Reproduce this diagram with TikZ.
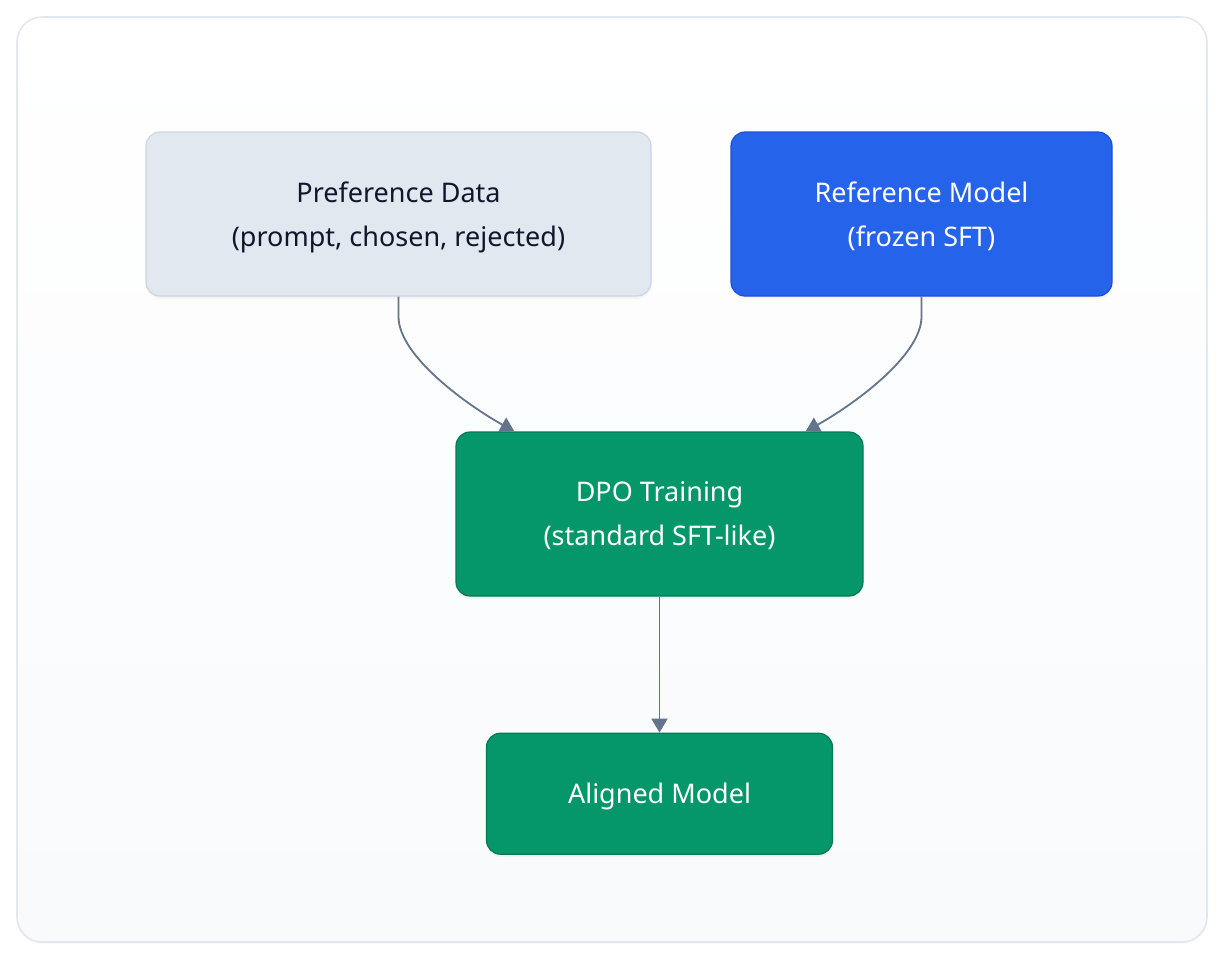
\documentclass[tikz,border=0pt]{standalone}
\usepackage{fontspec}
\setmainfont{Noto Sans}
\usepackage{xcolor}
\usepackage{tikz}
\usetikzlibrary{arrows.meta, positioning, shadows}

\definecolor{frameline}{HTML}{E2E8F0}
\definecolor{framebot}{HTML}{F8FAFC}
\definecolor{datafill}{HTML}{E2E8F0}
\definecolor{dataline}{HTML}{CBD5E1}
\definecolor{datatext}{HTML}{0F172A}
\definecolor{reffill}{HTML}{2563EB}
\definecolor{refline}{HTML}{1D4ED8}
\definecolor{trainfill}{HTML}{059669}
\definecolor{trainline}{HTML}{047857}
\definecolor{edgecol}{HTML}{64748B}

\begin{document}
\begin{tikzpicture}[
  x=0.5pt, y=-0.5pt,
  box/.style={rounded corners=7pt, align=center, minimum height=82pt, line width=0.6pt,
    text depth=0pt, font=\fontsize{13.5}{22}\selectfont,
    drop shadow={opacity=0.06, shadow xshift=0pt, shadow yshift=-1.5pt}},
  databox/.style={box, draw=dataline, fill=datafill, text=datatext},
  refbox/.style={box, draw=refline, fill=reffill, text=white},
  trainbox/.style={box, draw=trainline, fill=trainfill, text=white},
  arrow/.style={draw=edgecol, line width=0.9pt, -{Triangle[width=8pt, length=7pt]}}
]
\useasboundingbox (0,0) rectangle (1224,960);
% outer frame
\shade[top color=white, bottom color=framebot, draw=frameline, line width=0.8pt,
  rounded corners=12.5pt, drop shadow={opacity=0.05, shadow xshift=0pt, shadow yshift=-1pt}]
  (17,17) rectangle (1207,942);

\node[databox, minimum width=252.5pt] (pref) at (398.5,214) {Preference Data\\(prompt, chosen, rejected)};
\node[refbox, minimum width=190.5pt] (ref) at (921.5,214) {Reference Model\\(frozen SFT)};
\node[trainbox, minimum width=203.5pt] (dpo) at (659.5,514) {DPO Training\\(standard SFT-like)};
\node[trainbox, minimum width=173pt, minimum height=60.5pt, below=68pt of dpo] (aligned) {Aligned Model};

\coordinate (dpoL) at ([xshift=29.5pt]dpo.north west);
\coordinate (dpoR) at ([xshift=-29pt]dpo.north east);

\draw[arrow] (pref.south) -- ++(0,20) .. controls +(0,40) and +(-45,-25) .. (dpoL);
\draw[arrow] (ref.south) -- ++(0,20) .. controls +(0,40) and +(45,-25) .. (dpoR);
\draw[arrow] (dpo) -- (aligned);
\end{tikzpicture}
\end{document}
